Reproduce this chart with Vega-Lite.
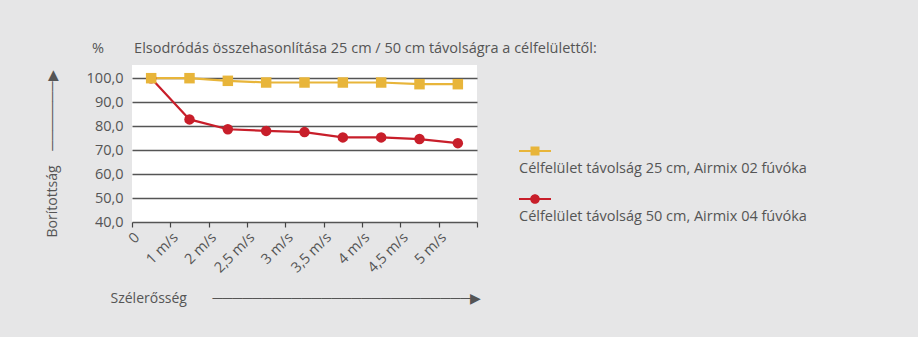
{
  "$schema": "https://vega.github.io/schema/vega-lite/v6.json",
  "autosize": {"type": "none"},
  "padding": {"left": 132, "top": 65, "right": 441, "bottom": 115},
  "width": 345,
  "height": 157,
  "background": "#e6e6e7",
  "title": {
    "text": "%\u00a0\u00a0\u00a0\u00a0\u00a0\u00a0\u00a0\u00a0Elsodródás összehasonlítása 25 cm / 50 cm távolságra a célfelülettől:",
    "anchor": "start",
    "frame": "group",
    "dx": -40,
    "baseline": "middle",
    "offset": 2,
    "font": "Open Sans",
    "fontSize": 14.5,
    "fontWeight": "normal",
    "color": "#555555"
  },
  "config": {
    "view": {"fill": "white", "stroke": null},
    "font": "Open Sans",
    "axis": {
      "labelFont": "Open Sans",
      "labelFontSize": 14.5,
      "labelColor": "#555555",
      "titleFont": "Open Sans",
      "titleFontSize": 14,
      "titleFontWeight": "normal",
      "titleColor": "#555555"
    },
    "legend": {
      "labelFont": "Open Sans",
      "labelFontSize": 14.5,
      "labelColor": "#555555"
    }
  },
  "data": {
    "values": [
      {"wind": "0", "series": "Célfelület távolság 50 cm, Airmix 04 fúvóka", "value": 100.0},
      {"wind": "1 m/s", "series": "Célfelület távolság 50 cm, Airmix 04 fúvóka", "value": 82.8},
      {"wind": "2 m/s", "series": "Célfelület távolság 50 cm, Airmix 04 fúvóka", "value": 78.7},
      {"wind": "2,5 m/s", "series": "Célfelület távolság 50 cm, Airmix 04 fúvóka", "value": 78.0},
      {"wind": "3 m/s", "series": "Célfelület távolság 50 cm, Airmix 04 fúvóka", "value": 77.5},
      {"wind": "3,5 m/s", "series": "Célfelület távolság 50 cm, Airmix 04 fúvóka", "value": 75.3},
      {"wind": "4 m/s", "series": "Célfelület távolság 50 cm, Airmix 04 fúvóka", "value": 75.3},
      {"wind": "4,5 m/s", "series": "Célfelület távolság 50 cm, Airmix 04 fúvóka", "value": 74.6},
      {"wind": "5 m/s", "series": "Célfelület távolság 50 cm, Airmix 04 fúvóka", "value": 72.9},
      {"wind": "0", "series": "Célfelület távolság 25 cm, Airmix 02 fúvóka", "value": 100.0},
      {"wind": "1 m/s", "series": "Célfelület távolság 25 cm, Airmix 02 fúvóka", "value": 100.0},
      {"wind": "2 m/s", "series": "Célfelület távolság 25 cm, Airmix 02 fúvóka", "value": 98.9},
      {"wind": "2,5 m/s", "series": "Célfelület távolság 25 cm, Airmix 02 fúvóka", "value": 98.2},
      {"wind": "3 m/s", "series": "Célfelület távolság 25 cm, Airmix 02 fúvóka", "value": 98.2},
      {"wind": "3,5 m/s", "series": "Célfelület távolság 25 cm, Airmix 02 fúvóka", "value": 98.2},
      {"wind": "4 m/s", "series": "Célfelület távolság 25 cm, Airmix 02 fúvóka", "value": 98.2},
      {"wind": "4,5 m/s", "series": "Célfelület távolság 25 cm, Airmix 02 fúvóka", "value": 97.5},
      {"wind": "5 m/s", "series": "Célfelület távolság 25 cm, Airmix 02 fúvóka", "value": 97.5}
    ]
  },
  "encoding": {
    "x": {
      "field": "wind",
      "type": "ordinal",
      "sort": null,
      "scale": {"type": "band", "paddingInner": 0, "paddingOuter": 0},
      "axis": {
        "title": "Szélerősség\u00a0\u00a0\u00a0\u00a0\u00a0\u00a0\u00a0──────────────────────────▶",
        "titleX": -22,
        "titleY": 76,
        "titleAlign": "left",
        "titleAnchor": null,
        "titleBaseline": "middle",
        "labelAngle": -45,
        "labelAlign": "right",
        "labelBaseline": "top",
        "labelOffset": -19,
        "labelPadding": 3,
        "tickBand": "extent",
        "ticks": true,
        "tickColor": "#444444",
        "tickSize": 5,
        "tickWidth": 1.2,
        "domain": false,
        "grid": false
      }
    },
    "y": {
      "field": "value",
      "type": "quantitative",
      "scale": {"domain": [40, 105.5], "nice": false, "zero": false},
      "axis": {
        "values": [40, 50, 60, 70, 80, 90, 100],
        "labelExpr": "replace(format(datum.value, '.1f'), '.', ',')",
        "title": "Borítottság\u00a0\u00a0\u00a0\u00a0───────▶",
        "titleX": -80,
        "titleY": 172,
        "titleAngle": 270,
        "titleAlign": "left",
        "titleAnchor": null,
        "titleBaseline": "middle",
        "ticks": false,
        "domain": false,
        "grid": true,
        "gridColor": "#555555",
        "gridWidth": 1.5,
        "labelPadding": 9
      }
    },
    "color": {
      "field": "series",
      "type": "nominal",
      "scale": {"range": ["#e8b53a", "#c81e2a"]},
      "legend": {
        "orient": "none",
        "legendX": 387,
        "legendY": 70,
        "title": null,
        "symbolSize": 1024,
        "symbolStrokeWidth": 0,
        "labelOffset": -32,
        "labelLimit": 400,
        "rowPadding": 7,
        "encoding": {
          "symbols": {
            "shape": {
              "condition": {"test": "datum.value === 'Célfelület távolság 25 cm, Airmix 02 fúvóka'", "value": "M-1,-0.065H1V0.065H-1Z M-0.28,-0.28H0.28V0.28H-0.28Z"},
              "value": "M-1,-0.07H1V0.07H-1Z M0.3,0A0.3,0.3,0,1,1,-0.3,0A0.3,0.3,0,1,1,0.3,0Z"
            },
            "fill": {
              "condition": {"test": "datum.value === 'Célfelület távolság 25 cm, Airmix 02 fúvóka'", "value": "#e8b53a"},
              "value": "#c81e2a"
            },
            "fillOpacity": {"value": 1},
            "strokeWidth": {"value": 0}
          },
          "labels": {"dy": {"value": 18}}
        }
      }
    }
  },
  "layer": [
    {
      "mark": {"type": "line", "strokeWidth": 2.2},
      "encoding": {}
    },
    {
      "mark": {"type": "point", "filled": true, "opacity": 1},
      "encoding": {
        "shape": {
          "field": "series",
          "type": "nominal",
          "scale": {"range": ["square", "circle"]},
          "legend": null
        },
        "size": {"value": 110}
      }
    }
  ]
}
